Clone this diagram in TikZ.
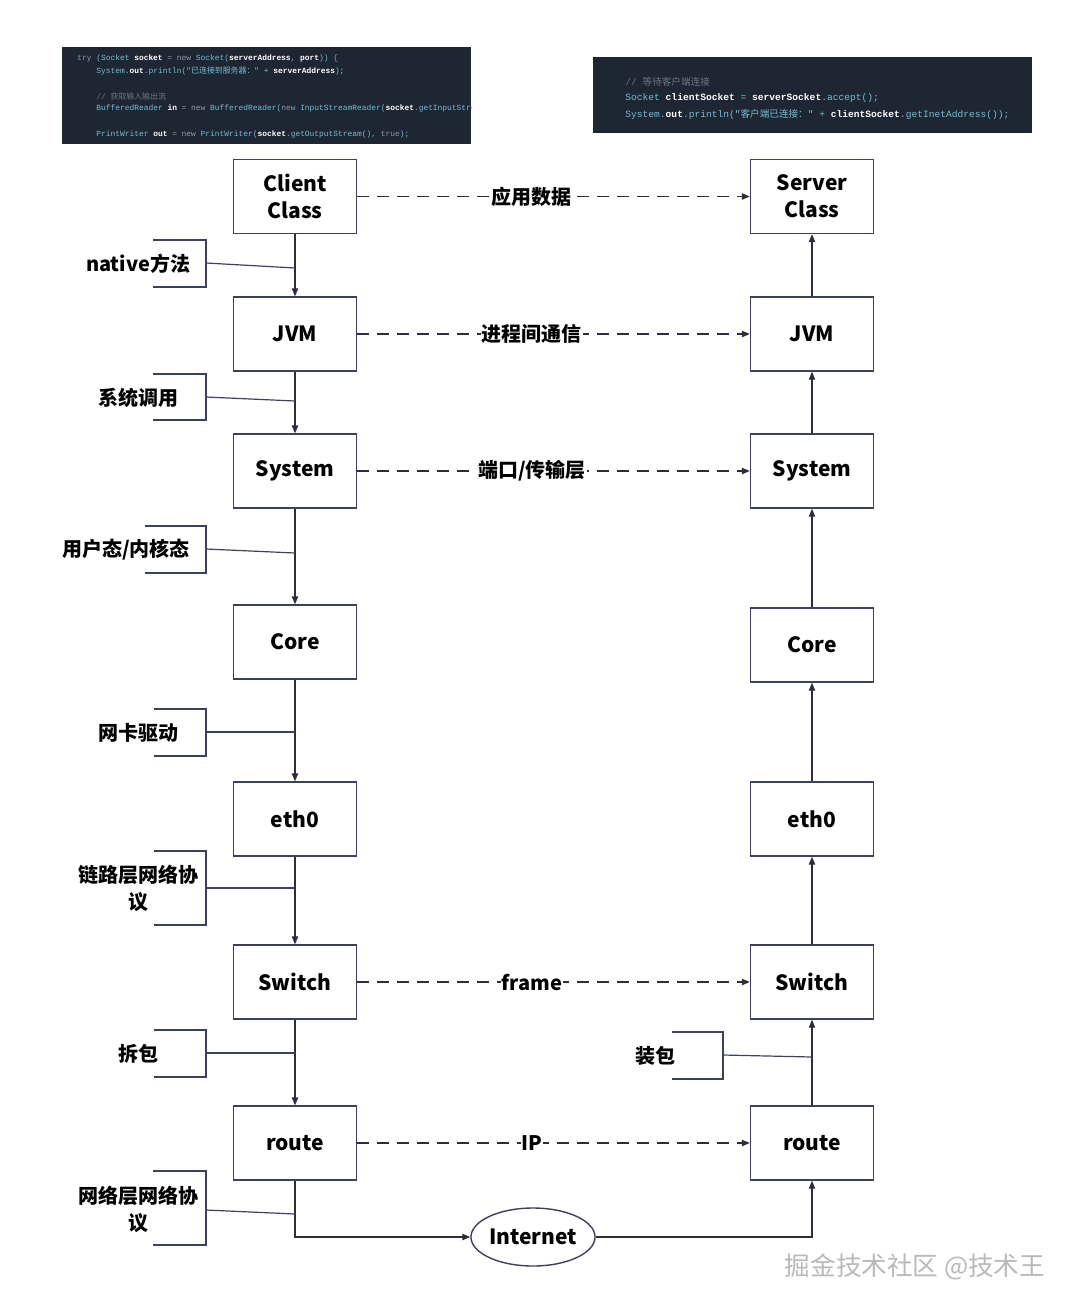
\documentclass[tikz,border=0pt]{standalone}
\usepackage{fontspec}
\usepackage{xcolor}
\setmainfont{Noto Sans CJK SC}
\newfontfamily\codefont{Liberation Mono}
\newfontfamily\codecjk{Noto Sans CJK SC}
\usetikzlibrary{arrows.meta,shapes.geometric,positioning}
\definecolor{boxline}{HTML}{3D4060}
\definecolor{inkline}{HTML}{2E2E3A}
\definecolor{codebg}{HTML}{1F2633}
\definecolor{codebase}{HTML}{6FBFD0}
\definecolor{codekw}{HTML}{8E98AC}
\definecolor{codecm}{HTML}{6B7586}
\newcommand{\codekw}[1]{\textcolor{codekw}{#1}}
\newcommand{\codevar}[1]{\textcolor{white}{\bfseries #1}}
\newcommand{\codecm}[1]{\textcolor{codecm}{#1}}
\tikzset{
    layer-box/.style = {draw=boxline, line width=0.7pt, fill=white, rectangle, minimum width=61.5pt, minimum height=37pt, align=center, font=\bfseries\fontsize{10.5}{13.5}\selectfont},
    net-cloud/.style = {draw=boxline, line width=0.7pt, ellipse, inner sep=0pt, minimum width=62pt, minimum height=29pt, font=\bfseries\fontsize{10.5}{13.5}\selectfont},
    flow-arrow/.style = {draw=inkline, line width=0.6pt, -{Triangle[length=4pt,width=3.2pt]}},
    peer-arrow/.style = {flow-arrow, dash pattern=on 6pt off 4pt},
    peer-label/.style = {fill=white, inner sep=0.5pt, pos=0.445, font=\bfseries\fontsize{10}{12}\selectfont},
    note-text/.style = {align=center, font=\bfseries\fontsize{10}{13.5}\selectfont},
    note-line/.style = {draw=boxline, line width=0.6pt},
    code-line/.style = {anchor=west, inner sep=0pt, text=codebase},
}

\begin{document}
\begin{tikzpicture}[x=0.5pt, y=-0.5pt]
\useasboundingbox (0,0) rectangle (1080,1313);

% code snippets
\fill[codebg] (62,47) rectangle (471,144);
\begin{scope}
\clip (62,47) rectangle (471,144);
\begin{scope}[every node/.style={code-line, font=\codefont\fontsize{3.95}{4}\selectfont}]
\node (cl1) at (77,58) {\codekw{try} (Socket \codevar{socket} \codekw{= new} Socket(\codevar{serverAddress}, \codevar{port})) \codekw{\{}};
\node (cl2) at (96,71) {System.\codevar{out}.println("{\codecjk 已连接到服务器：}" + \codevar{serverAddress});};
\node (cl3) at (96,96) {\codecm{// {\codecjk 获取输入输出流}}};
\node (cl4) at (96,108) {BufferedReader \codevar{in} \codekw{= new} BufferedReader(\codekw{new} InputStreamReader(\codevar{socket}.getInputStream()));};
\node (cl5) at (96,134) {PrintWriter \codevar{out} \codekw{= new} PrintWriter(\codevar{socket}.getOutputStream(), \codekw{true});};
\end{scope}
\end{scope}

\fill[codebg] (593,57) rectangle (1032,133);
\begin{scope}[every node/.style={code-line, font=\codefont\fontsize{4.8}{5}\selectfont}]
\node (sl1) at (625,82) {\codecm{// {\codecjk 等待客户端连接}}};
\node (sl2) at (625,98) {Socket \codevar{clientSocket} = \codevar{serverSocket}.accept();};
\node (sl3) at (625,114) {System.\codevar{out}.println("{\codecjk 客户端已连接：}" + \codevar{clientSocket}.getInetAddress());};
\end{scope}

% client side
\node[layer-box] (cclass) at (295,196.5) {Client\\Class};
\node[layer-box] (cjvm) at (295,334) {JVM};
\node[layer-box] (csys) at (295,471) {System};
\node[layer-box] (ccore) at (295,642) {Core};
\node[layer-box] (ceth) at (295,819) {eth0};
\node[layer-box] (cswitch) at (295,982) {Switch};
\node[layer-box] (croute) at (295,1143) {route};

% server side
\node[layer-box] (sclass) at (812,196.5) {Server\\Class};
\node[layer-box] (sjvm) at (812,334) {JVM};
\node[layer-box] (ssys) at (812,471) {System};
\node[layer-box] (score) at (812,645) {Core};
\node[layer-box] (seth) at (812,819) {eth0};
\node[layer-box] (sswitch) at (812,982) {Switch};
\node[layer-box] (sroute) at (812,1143) {route};

\node[net-cloud] (inet) at (533,1237) {Internet};

% down the client stack
\draw[flow-arrow] (cclass) -- (cjvm);
\draw[flow-arrow] (cjvm) -- (csys);
\draw[flow-arrow] (csys) -- (ccore);
\draw[flow-arrow] (ccore) -- (ceth);
\draw[flow-arrow] (ceth) -- (cswitch);
\draw[flow-arrow] (cswitch) -- (croute);
\draw[flow-arrow] (croute.south) |- (inet.west);
\draw[flow-arrow] (inet.east) -| (sroute.south);

% up the server stack
\draw[flow-arrow] (sroute) -- (sswitch);
\draw[flow-arrow] (sswitch) -- (seth);
\draw[flow-arrow] (seth) -- (score);
\draw[flow-arrow] (score) -- (ssys);
\draw[flow-arrow] (ssys) -- (sjvm);
\draw[flow-arrow] (sjvm) -- (sclass);

% peer layers
\draw[peer-arrow] (cclass) -- node[peer-label] (lapp) {应用数据} (sclass);
\draw[peer-arrow] (cjvm) -- node[peer-label] (lipc) {进程间通信} (sjvm);
\draw[peer-arrow] (csys) -- node[peer-label] (lport) {端口/传输层} (ssys);
\draw[peer-arrow] (cswitch) -- node[peer-label] (lframe) {frame} (sswitch);
\draw[peer-arrow] (croute) -- node[peer-label] (lip) {IP} (sroute);

% side notes
\node[note-text] (nnative) at (138,264) {native方法};
\draw[note-line] (153,240) -| (206,287) -- (153,287);
\coordinate (bnative) at (206,263);
\coordinate (anative) at (295,268);
\draw[note-line] (bnative) -- (anative);

\node[note-text] (nsyscall) at (138,398) {系统调用};
\draw[note-line] (153,374) -| (206,420) -- (153,420);
\coordinate (bsyscall) at (206,397);
\coordinate (asyscall) at (295,401);
\draw[note-line] (bsyscall) -- (asyscall);

\node[note-text] (nmode) at (126,550) {用户态/内核态};
\draw[note-line] (145,526) -| (206,573) -- (145,573);
\coordinate (bmode) at (206,549);
\coordinate (amode) at (295,553);
\draw[note-line] (bmode) -- (amode);

\node[note-text] (ndriver) at (138,733) {网卡驱动};
\draw[note-line] (154,709) -| (206,756) -- (154,756);
\coordinate (bdriver) at (206,732);
\coordinate (adriver) at (295,732);
\draw[note-line] (bdriver) -- (adriver);

\node[note-text] (nlink) at (138,888) {链路层网络协\\议};
\draw[note-line] (154,851) -| (206,925) -- (154,925);
\coordinate (blink) at (206,888);
\coordinate (alink) at (295,888);
\draw[note-line] (blink) -- (alink);

\node[note-text] (nunpack) at (138,1054) {拆包};
\draw[note-line] (154,1030) -| (206,1077) -- (154,1077);
\coordinate (bunpack) at (206,1053);
\coordinate (aunpack) at (295,1053);
\draw[note-line] (bunpack) -- (aunpack);

\node[note-text] (npack) at (655,1056) {装包};
\draw[note-line] (672,1032) -| (723,1079) -- (672,1079);
\coordinate (bpack) at (723,1055);
\coordinate (apack) at (812,1057);
\draw[note-line] (bpack) -- (apack);

\node[note-text] (nnet) at (138,1209) {网络层网络协\\议};
\draw[note-line] (153,1171) -| (206,1245) -- (153,1245);
\coordinate (bnet) at (206,1210);
\coordinate (anet) at (295,1214);
\draw[note-line] (bnet) -- (anet);

% watermark
\node[text=gray!55, font=\fontsize{12.8}{14}\selectfont] (mark) at (915,1267) {掘金技术社区 @技术王};
\end{tikzpicture}
\end{document}
